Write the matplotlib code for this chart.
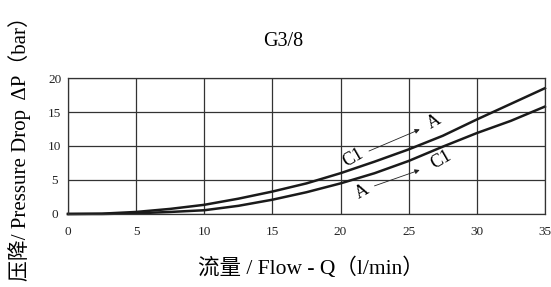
import matplotlib.pyplot as plt

plt.rcParams['font.family'] = ['Liberation Serif', 'Noto Sans CJK SC']

# flow (l/min) and pressure drop (bar)
flow = [0, 2.5, 5, 7.5, 10, 12.5, 15, 17.5, 20, 22.5, 25, 27.5, 30, 32.5, 35]
dp_c1_a = [0, 0.05, 0.3, 0.75, 1.35, 2.25, 3.3, 4.5, 6.0, 7.7, 9.5, 11.5, 13.9, 16.2, 18.5]
dp_a_c1 = [0, 0.0, 0.1, 0.3, 0.55, 1.2, 2.1, 3.2, 4.5, 6.0, 7.8, 9.9, 11.9, 13.7, 15.8]

xticks = [0, 5, 10, 15, 20, 25, 30, 35]
yticks = [0, 5, 10, 15, 20]

fig = plt.figure(figsize=(5.51, 2.87), dpi=100)
ax = fig.add_axes([0.1234, 0.2544, 0.8656, 0.4738])

ax.plot(flow, dp_c1_a, color='#1a1a1a', lw=1.8, clip_on=False)
ax.plot(flow, dp_a_c1, color='#1a1a1a', lw=1.8, clip_on=False)

ax.set_xlim(0, 35)
ax.set_ylim(0, 20)
ax.set_xticks(xticks)
ax.set_yticks(yticks)
ax.grid(True, color='#333333', lw=0.9)
for s in ax.spines.values():
    s.set_color('#333333')
    s.set_linewidth(0.9)
ax.tick_params(length=0, labelsize=9.5, colors='#222222')
ax.tick_params(axis='x', pad=9)
ax.tick_params(axis='y', pad=9.5)
for t in ax.get_yticklabels():
    t.set_horizontalalignment('center')

# flow direction labels
ax.text(20.9, 8.2, 'C1', rotation=30, ha='center', va='center', fontsize=13)
ax.annotate('', xy=(26.0, 12.6), xytext=(21.9, 9.1),
            arrowprops=dict(arrowstyle='-|>', color='#222222', lw=0.6, mutation_scale=7))
ax.text(26.9, 13.6, 'A', rotation=30, ha='center', va='center', fontsize=13)

ax.text(21.6, 3.2, 'A', rotation=30, ha='center', va='center', fontsize=13)
ax.annotate('', xy=(26.0, 6.6), xytext=(22.3, 4.0),
            arrowprops=dict(arrowstyle='-|>', color='#222222', lw=0.6, mutation_scale=7))
ax.text(27.4, 7.9, 'C1', rotation=30, ha='center', va='center', fontsize=13)

fig.text(283/551, 1 - 42/287, 'G3/8', ha='center', va='center', fontsize=14.5)
fig.text(311/551, 1 - 268/287, '流量 / Flow - Q（l/min）', ha='center', va='center', fontsize=15.5)
fig.text(20/551, 0.5, '压降/ Pressure Drop  ΔP（bar）', rotation=90,
         ha='center', va='center', fontsize=15)

fig.savefig('out.png', dpi=100)
